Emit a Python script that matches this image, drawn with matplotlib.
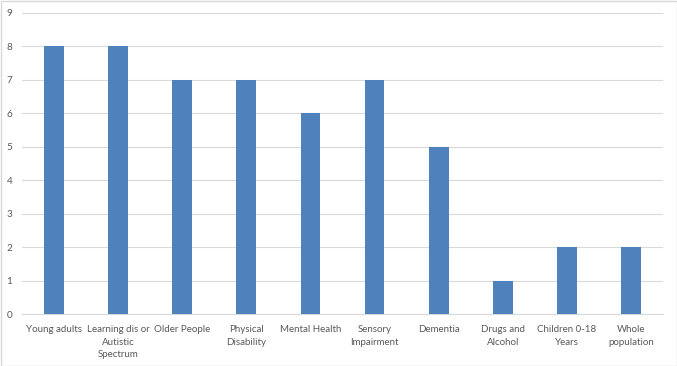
import matplotlib
matplotlib.use("Agg")
import matplotlib.pyplot as plt
from matplotlib.patches import Rectangle

categories = ["Young adults", "Learning dis or\nAutistic\nSpectrum", "Older People",
              "Physical\nDisability", "Mental Health", "Sensory\nImpairment", "Dementia",
              "Drugs and\nAlcohol", "Children 0-18\nYears", "Whole\npopulation"]
values = [8, 8, 7, 7, 6, 7, 5, 1, 2, 2]
yticks = list(range(0, 10))

plt.rcParams['font.family'] = ['Lato', 'DejaVu Sans']

fig = plt.figure(figsize=(6.77, 3.66), dpi=100)
ax = fig.add_axes([22/677, 1-314/366, 641/677, 301/366])

x = list(range(len(categories)))
ax.bar(x, values, width=0.31, color="#4f81bd", zorder=3)
ax.set_xlim(-0.5, len(categories) - 0.5)
ax.set_ylim(0, 9)
ax.set_yticks(yticks)
ax.set_xticks(x)
ax.set_xticklabels(categories, fontsize=7.0, color="#595959", linespacing=1.5)
ax.tick_params(axis='y', labelsize=7.2, labelcolor="#595959", length=0, pad=7)
ax.tick_params(axis='x', length=0, pad=8)
ax.grid(axis='y', color="#d9d9d9", linewidth=0.8, zorder=0)
for s in ["top", "right", "left"]:
    ax.spines[s].set_visible(False)
ax.spines["bottom"].set_color("#d9d9d9")
ax.spines["bottom"].set_linewidth(0.8)

fig.patches.append(Rectangle((0.5/677, 0.5/366), 1-1/677, 1-1/366, transform=fig.transFigure,
                             fill=False, edgecolor="#d9d9d9", linewidth=1))
fig.savefig("out.png", dpi=100)
